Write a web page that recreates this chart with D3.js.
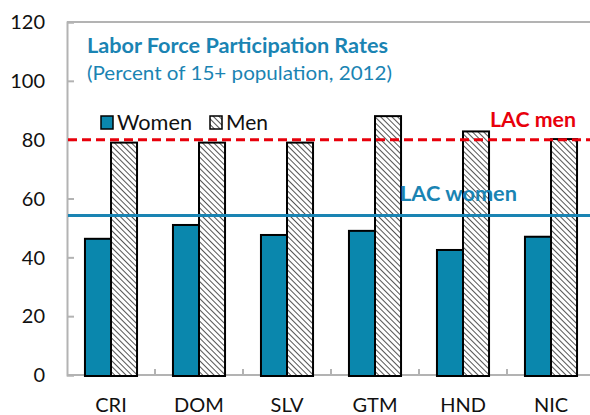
<!DOCTYPE html>
<html>
<head>
<meta charset="utf-8">
<script src="https://cdnjs.cloudflare.com/ajax/libs/d3/7.8.5/d3.min.js"></script>
<style>
  body { margin: 0; background: #fff; }
  text { font-family: Lato, "Open Sans", sans-serif; }
</style>
</head>
<body>
<div id="chart"></div>
<script>
// data
var countries = ["CRI", "DOM", "SLV", "GTM", "HND", "NIC"];
var women = [46.3, 51, 47.6, 49, 42.5, 47];
var men = [79, 79, 79, 88, 82.8, 80.2];
var series = ["Women", "Men"];
var yTicks = [0, 20, 40, 60, 80, 100, 120];
var lacMen = 80;
var lacWomen = 54.2;

var width = 590, height = 415;
var margin = {top: 22, left: 67, bottom: 40};
var plotRight = 595;

var svg = d3.select("#chart").append("svg")
    .attr("width", width)
    .attr("height", height);

// hatch for the men bars
var defs = svg.append("defs");
var pat = defs.append("pattern")
    .attr("id", "hatch")
    .attr("patternUnits", "userSpaceOnUse")
    .attr("width", 4)
    .attr("height", 4)
    .attr("patternTransform", "rotate(-45)");
pat.append("rect").attr("width", 4).attr("height", 4).attr("fill", "#fff");
pat.append("line")
    .attr("x1", 0).attr("y1", 0).attr("x2", 0).attr("y2", 4)
    .attr("stroke", "#555").attr("stroke-width", 2);

var y = d3.scaleLinear()
    .domain([0, 120])
    .range([height - margin.bottom, margin.top]);

var x = d3.scaleBand()
    .domain(countries)
    .range([margin.left, plotRight])
    .paddingInner(0).paddingOuter(0);

var xs = d3.scaleBand()
    .domain(series)
    .range([0, x.bandwidth()])
    .paddingInner(0)
    .paddingOuter(0.69);

var grey = "#b3b3b3";

// plot frame (top + left + bottom)
svg.append("line")
    .attr("x1", margin.left).attr("x2", width)
    .attr("y1", y(120)).attr("y2", y(120))
    .attr("stroke", grey).attr("stroke-width", 2);

// y axis
var yAxis = svg.append("g")
    .attr("transform", "translate(" + margin.left + ",0)")
    .call(d3.axisRight(y).tickValues(yTicks).tickSize(7).tickFormat(""));
yAxis.select(".domain").attr("stroke", grey).attr("stroke-width", 2);
yAxis.selectAll(".tick line").attr("stroke", grey).attr("stroke-width", 2);

svg.selectAll(".ylab")
    .data(yTicks)
    .enter().append("text")
    .attr("class", "ylab")
    .attr("x", 45)
    .attr("y", function(d) { return y(d); })
    .attr("dy", "0.36em")
    .attr("text-anchor", "end")
    .attr("font-size", 20)
    .attr("fill", "#111")
    .text(function(d) { return d; });

// x axis
var xAxis = svg.append("g")
    .attr("transform", "translate(0," + y(0) + ")")
    .call(d3.axisBottom(x).tickSize(0).tickFormat(""));
xAxis.select(".domain").attr("stroke", grey).attr("stroke-width", 2)
    .attr("d", "M" + margin.left + ",0H" + width);
svg.selectAll(".xtick")
    .data(countries.slice(1))
    .enter().append("line")
    .attr("class", "xtick")
    .attr("x1", function(d) { return x(d); })
    .attr("x2", function(d) { return x(d); })
    .attr("y1", y(0)).attr("y2", y(0) - 6)
    .attr("stroke", grey).attr("stroke-width", 2);

svg.selectAll(".xlab")
    .data(countries)
    .enter().append("text")
    .attr("class", "xlab")
    .attr("x", function(d) { return x(d) + x.bandwidth() / 2; })
    .attr("y", 412)
    .attr("text-anchor", "middle")
    .attr("font-size", 20)
    .attr("fill", "#111")
    .text(function(d) { return d; });

// bars
var groups = svg.selectAll(".grp")
    .data(countries)
    .enter().append("g")
    .attr("class", "grp")
    .attr("transform", function(d) { return "translate(" + x(d) + ",0)"; });

groups.append("rect")
    .attr("x", xs("Women"))
    .attr("width", xs.bandwidth())
    .attr("y", function(d, i) { return y(women[i]); })
    .attr("height", function(d, i) { return y(0) - y(women[i]) + 1; })
    .attr("fill", "#0a87ad")
    .attr("stroke", "#000").attr("stroke-width", 2);

groups.append("rect")
    .attr("x", xs("Men"))
    .attr("width", xs.bandwidth())
    .attr("y", function(d, i) { return y(men[i]); })
    .attr("height", function(d, i) { return y(0) - y(men[i]) + 1; })
    .attr("fill", "url(#hatch)")
    .attr("stroke", "#000").attr("stroke-width", 2);

// LAC reference lines
svg.append("line")
    .attr("x1", margin.left + 1).attr("x2", width)
    .attr("y1", y(lacMen)).attr("y2", y(lacMen))
    .attr("stroke", "#e8000b").attr("stroke-width", 3)
    .attr("stroke-dasharray", "9,5");
svg.append("line")
    .attr("x1", margin.left + 1).attr("x2", width)
    .attr("y1", y(lacWomen)).attr("y2", y(lacWomen))
    .attr("stroke", "#1a84b3").attr("stroke-width", 3);

svg.append("text")
    .attr("x", 490).attr("y", 127)
    .attr("font-size", 21).attr("font-weight", "bold")
    .attr("fill", "#e8000b")
    .attr("textLength", 86).attr("lengthAdjust", "spacingAndGlyphs")
    .text("LAC men");
svg.append("text")
    .attr("x", 400).attr("y", 201)
    .attr("font-size", 21).attr("font-weight", "bold")
    .attr("fill", "#1a84b3")
    .attr("textLength", 117).attr("lengthAdjust", "spacingAndGlyphs")
    .text("LAC women");

// title
svg.append("text")
    .attr("x", 87).attr("y", 53)
    .attr("font-size", 20).attr("font-weight", "bold")
    .attr("fill", "#1a84b3")
    .attr("textLength", 301).attr("lengthAdjust", "spacingAndGlyphs")
    .text("Labor Force Participation Rates");
svg.append("text")
    .attr("x", 87).attr("y", 80)
    .attr("font-size", 19)
    .attr("fill", "#1a84b3")
    .attr("textLength", 305).attr("lengthAdjust", "spacingAndGlyphs")
    .text("(Percent of 15+ population, 2012)");

// legend
var legend = svg.append("g");
var legX = [101, 210];
var legW = [75, 42];
series.forEach(function(s, i) {
  legend.append("rect")
    .attr("x", legX[i]).attr("y", 116)
    .attr("width", 12).attr("height", 13)
    .attr("fill", s === "Women" ? "#0a87ad" : "url(#hatch)")
    .attr("stroke", "#000").attr("stroke-width", 1.5);
  legend.append("text")
    .attr("x", legX[i] + 16).attr("y", 130)
    .attr("font-size", 21)
    .attr("fill", "#111")
    .attr("textLength", legW[i]).attr("lengthAdjust", "spacingAndGlyphs")
    .text(s);
});
</script>
</body>
</html>
